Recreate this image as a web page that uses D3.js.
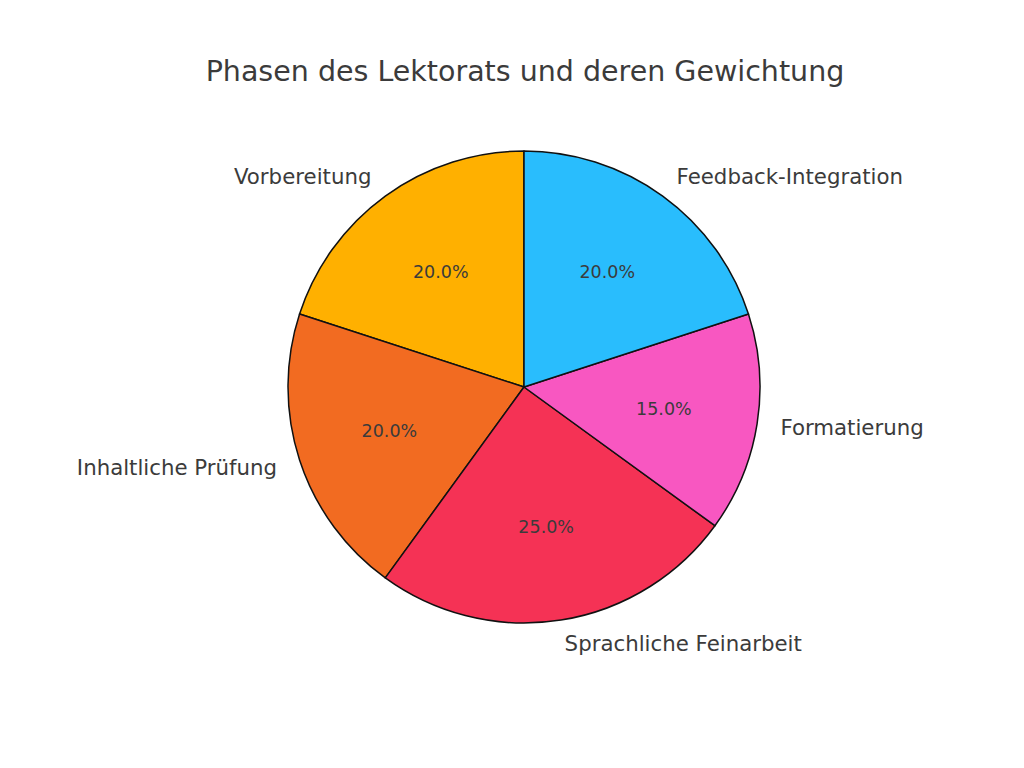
<!DOCTYPE html>
<html><head><meta charset="utf-8">
<script src="https://cdn.jsdelivr.net/npm/d3@7"></script>
<style>body{margin:0;background:#fff}text{font-family:"DejaVu Sans",sans-serif}</style>
</head><body><div id="c"></div>
<script>
const categories = ["Vorbereitung","Inhaltliche Prüfung","Sprachliche Feinarbeit","Formatierung","Feedback-Integration"];
const values = [20,20,25,15,20];
const colors = ["#FFB000","#F26B21","#F53255","#F857C1","#29BDFD"];
const title = "Phasen des Lektorats und deren Gewichtung";

const W=1024,H=768,cx=524,cy=387,r=236;
const svg=d3.select("#c").append("svg").attr("width",W).attr("height",H);
svg.append("text").attr("x",525).attr("y",71).attr("text-anchor","middle").attr("dominant-baseline","central")
  .attr("font-size",28.5).attr("fill","#3b3b3b").text(title);

// matplotlib: startangle 90, counterclockwise. Convert to d3 angles (clockwise from 12 o'clock).
const total=d3.sum(values);
const scale=d3.scaleLinear().domain([0,total]).range([0,-2*Math.PI]);
let cum=0;
const slices=values.map((v,i)=>{const a0=scale(cum);cum+=v;const a1=scale(cum);return {i,v,startAngle:a1,endAngle:a0};});
const arc=d3.arc().innerRadius(0).outerRadius(r);
const g=svg.append("g").attr("transform",`translate(${cx},${cy})`);
g.selectAll("path").data(slices).join("path").attr("d",arc)
  .attr("fill",d=>colors[d.i]).attr("stroke","#111").attr("stroke-width",1.5).attr("stroke-linejoin","round");
slices.forEach(d=>{
  const mid=(d.startAngle+d.endAngle)/2; // d3 angle
  const x=Math.sin(mid), y=-Math.cos(mid);
  g.append("text").attr("x",1.1*r*x).attr("y",1.1*r*y).attr("text-anchor",x>0?"start":"end")
   .attr("dominant-baseline","central").attr("font-size",21.3).attr("fill","#3b3b3b").text(categories[d.i]);
  g.append("text").attr("x",0.6*r*x).attr("y",0.6*r*y).attr("text-anchor","middle")
   .attr("dominant-baseline","central").attr("font-size",17.5).attr("fill","#3b3b3b").text((d.v/total*100).toFixed(1)+"%");
});
</script></body></html>
